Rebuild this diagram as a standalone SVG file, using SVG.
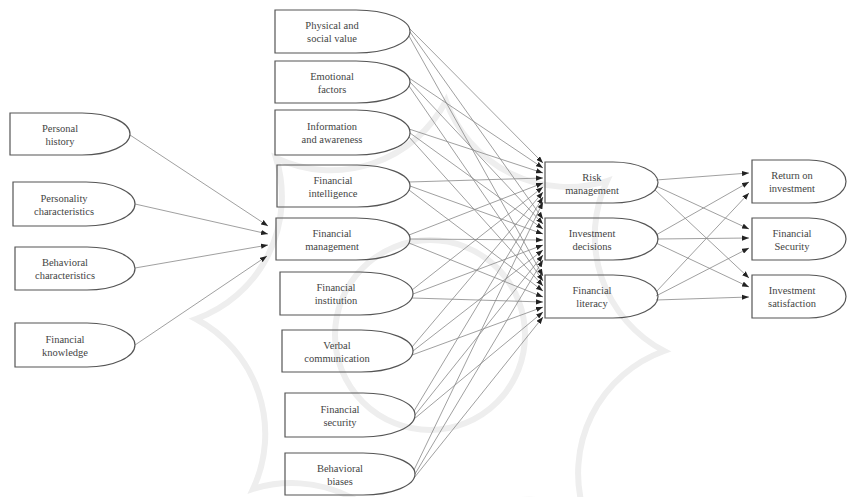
<svg xmlns="http://www.w3.org/2000/svg" width="850" height="497" viewBox="0 0 850 497">
  <defs>
    <marker id="arr" viewBox="0 0 8 6" refX="8" refY="3" markerWidth="7" markerHeight="5.5" orient="auto" markerUnits="userSpaceOnUse">
      <path d="M0,0 L8,3 L0,6 Z" fill="#222"/>
    </marker>
    <style>
      .node path { fill: none; stroke: #555; stroke-width: 1.2; }
      .node text { font-family: "Liberation Serif", "Times New Roman", serif; font-size: 10.5px; fill: #444; text-anchor: middle; }
      .edges line { stroke: #888; stroke-width: 0.8; marker-end: url(#arr); }
      .mark { fill: none; stroke: #eeeeee; stroke-width: 6; }
    </style>
  </defs>
  <rect width="850" height="497" fill="#fff"/>

  <!-- faint background emblem -->
  <g id="emblem" class="mark">
    <path d="M664,351 A130,130 0 0 0 584,512 A130,130 0 0 0 414,569 A130,130 0 0 0 253,489 A130,130 0 0 0 196,319 A130,130 0 0 0 276,158 A130,130 0 0 0 446,101 A130,130 0 0 0 607,181 A130,130 0 0 0 664,351 Z"/>
    <circle cx="430" cy="335" r="95"/>
  </g>

  <!-- connectors -->
  <g id="connectors" class="edges">
    <!-- antecedents to financial management -->
    <line x1="130" y1="135" x2="268" y2="226"/>
    <line x1="135" y1="204" x2="268" y2="234"/>
    <line x1="135" y1="268" x2="268" y2="245"/>
    <line x1="135" y1="345" x2="267" y2="256"/>
    <!-- middle factors to outcomes -->
    <line x1="409" y1="28" x2="543" y2="163"/>
    <line x1="410" y1="32" x2="543" y2="219"/>
    <line x1="409" y1="36" x2="543" y2="276"/>
    <line x1="409" y1="78" x2="543" y2="168"/>
    <line x1="410" y1="82" x2="543" y2="224"/>
    <line x1="409" y1="86" x2="543" y2="281"/>
    <line x1="409" y1="129" x2="543" y2="173"/>
    <line x1="410" y1="133" x2="543" y2="229"/>
    <line x1="409" y1="137" x2="543" y2="286"/>
    <line x1="409" y1="182" x2="543" y2="178"/>
    <line x1="410" y1="186" x2="543" y2="234"/>
    <line x1="409" y1="190" x2="543" y2="291"/>
    <line x1="409" y1="235" x2="543" y2="183"/>
    <line x1="410" y1="239" x2="543" y2="240"/>
    <line x1="409" y1="243" x2="543" y2="297"/>
    <line x1="412" y1="290" x2="543" y2="187"/>
    <line x1="413" y1="294" x2="543" y2="245"/>
    <line x1="412" y1="298" x2="543" y2="302"/>
    <line x1="412" y1="347" x2="543" y2="192"/>
    <line x1="413" y1="351" x2="543" y2="250"/>
    <line x1="412" y1="355" x2="543" y2="307"/>
    <line x1="414" y1="411" x2="543" y2="197"/>
    <line x1="415" y1="415" x2="543" y2="255"/>
    <line x1="414" y1="419" x2="543" y2="312"/>
    <line x1="414" y1="470" x2="543" y2="202"/>
    <line x1="415" y1="474" x2="543" y2="260"/>
    <line x1="414" y1="478" x2="543" y2="317"/>
    <!-- outcomes to results -->
    <line x1="656" y1="180" x2="749" y2="173"/>
    <line x1="656" y1="186" x2="749" y2="229"/>
    <line x1="655" y1="190" x2="749" y2="278"/>
    <line x1="656" y1="235" x2="749" y2="182"/>
    <line x1="657" y1="239" x2="749" y2="238"/>
    <line x1="656" y1="243" x2="749" y2="287"/>
    <line x1="656" y1="292" x2="749" y2="193"/>
    <line x1="656" y1="296" x2="749" y2="248"/>
    <line x1="656" y1="300" x2="749" y2="297"/>
  </g>

  <!-- left column -->
  <g id="personal-history" class="node">
    <path d="M10,113 H82 A48,21 0 0 1 82,155 H10 Z"/>
    <text x="60" y="132">Personal</text><text x="60" y="145">history</text>
  </g>
  <g id="personality-characteristics" class="node">
    <path d="M13,182 H86 A49,22 0 0 1 86,226 H13 Z"/>
    <text x="64" y="202">Personality</text><text x="64" y="215">characteristics</text>
  </g>
  <g id="behavioral-characteristics" class="node">
    <path d="M15,247 H87 A48,21.5 0 0 1 87,290 H15 Z"/>
    <text x="65" y="266">Behavioral</text><text x="65" y="279">characteristics</text>
  </g>
  <g id="financial-knowledge" class="node">
    <path d="M15,323 H87 A48,22 0 0 1 87,367 H15 Z"/>
    <text x="65" y="343">Financial</text><text x="65" y="356">knowledge</text>
  </g>

  <!-- middle column -->
  <g id="physical-social-value" class="node">
    <path d="M275,10 H356 A54,21.5 0 0 1 356,53 H275 Z"/>
    <text x="332" y="29">Physical and</text><text x="332" y="42">social value</text>
  </g>
  <g id="emotional-factors" class="node">
    <path d="M275,61 H356 A54,21 0 0 1 356,103 H275 Z"/>
    <text x="332" y="80">Emotional</text><text x="332" y="93">factors</text>
  </g>
  <g id="information-awareness" class="node">
    <path d="M275,110 H356 A54,22.5 0 0 1 356,155 H275 Z"/>
    <text x="332" y="130">Information</text><text x="332" y="143">and awareness</text>
  </g>
  <g id="financial-intelligence" class="node">
    <path d="M277,165 H357 A53,21 0 0 1 357,207 H277 Z"/>
    <text x="333" y="184">Financial</text><text x="333" y="197">intelligence</text>
  </g>
  <g id="financial-management" class="node">
    <path d="M276,218 H356 A54,21 0 0 1 356,260 H276 Z"/>
    <text x="332" y="237">Financial</text><text x="332" y="250">management</text>
  </g>
  <g id="financial-institution" class="node">
    <path d="M280,272 H360 A53,21.5 0 0 1 360,315 H280 Z"/>
    <text x="336" y="291">Financial</text><text x="336" y="304">institution</text>
  </g>
  <g id="verbal-communication" class="node">
    <path d="M282,330 H361 A52,21 0 0 1 361,372 H282 Z"/>
    <text x="337" y="349">Verbal</text><text x="337" y="362">communication</text>
  </g>
  <g id="financial-security-factor" class="node">
    <path d="M285,393 H363 A52,22 0 0 1 363,437 H285 Z"/>
    <text x="340" y="413">Financial</text><text x="340" y="426">security</text>
  </g>
  <g id="behavioral-biases" class="node">
    <path d="M285,453 H363 A52,21 0 0 1 363,495 H285 Z"/>
    <text x="340" y="472">Behavioral</text><text x="340" y="485">biases</text>
  </g>

  <!-- outcome column -->
  <g id="risk-management" class="node">
    <path d="M545,162 H613 A45,20.5 0 0 1 613,203 H545 Z"/>
    <text x="592" y="181">Risk</text><text x="592" y="194">management</text>
  </g>
  <g id="investment-decisions" class="node">
    <path d="M545,218 H613 A45,21 0 0 1 613,260 H545 Z"/>
    <text x="592" y="237">Investment</text><text x="592" y="250">decisions</text>
  </g>
  <g id="financial-literacy" class="node">
    <path d="M545,275 H613 A45,21.5 0 0 1 613,318 H545 Z"/>
    <text x="592" y="294">Financial</text><text x="592" y="307">literacy</text>
  </g>

  <!-- result column -->
  <g id="return-on-investment" class="node">
    <path d="M752,160 H809 A37,21.5 0 0 1 809,203 H752 Z"/>
    <text x="792" y="179">Return on</text><text x="792" y="192">investment</text>
  </g>
  <g id="financial-security" class="node">
    <path d="M752,218 H809 A37,21 0 0 1 809,260 H752 Z"/>
    <text x="792" y="237">Financial</text><text x="792" y="250">Security</text>
  </g>
  <g id="investment-satisfaction" class="node">
    <path d="M752,275 H809 A37,21.5 0 0 1 809,318 H752 Z"/>
    <text x="792" y="294">Investment</text><text x="792" y="307">satisfaction</text>
  </g>
</svg>
